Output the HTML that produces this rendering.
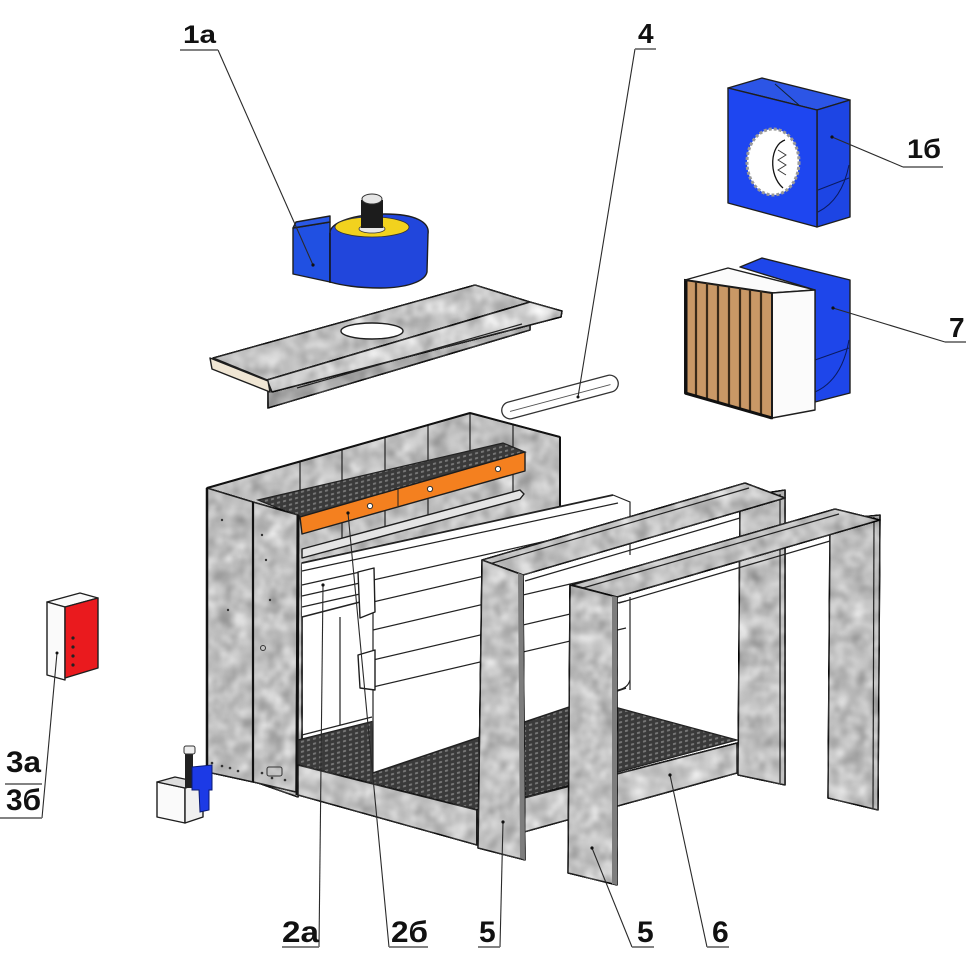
<!DOCTYPE html>
<html><head><meta charset="utf-8">
<style>
html,body{margin:0;padding:0;background:#fff;}
svg{display:block;}
.gv{filter:url(#gv);stroke:#1e1e1e;stroke-width:1.6;stroke-linejoin:round;}
.o{stroke:#1e1e1e;stroke-width:1.4;stroke-linejoin:round;}
.ln{stroke:#222;stroke-width:1.2;fill:none;}
.ld{stroke:#2a2a2a;stroke-width:1.1;fill:none;}
.ul{stroke:#707070;stroke-width:1.8;fill:none;}
.lab{font-family:"Liberation Sans",Arial,sans-serif;font-weight:bold;fill:#111;}
</style></head><body>
<svg width="970" height="970" viewBox="0 0 970 970" xmlns="http://www.w3.org/2000/svg">
<defs>
<filter id="gv" color-interpolation-filters="sRGB">
 <feTurbulence type="fractalNoise" baseFrequency="0.06" numOctaves="2" seed="7" result="t"/>
 <feColorMatrix in="t" type="matrix" values="0.33 0.33 0.33 0 0 0.33 0.33 0.33 0 0 0.33 0.33 0.33 0 0 0 0 0 0 1" result="g"/>
 <feComposite in="g" in2="SourceGraphic" operator="in" result="gm"/>
 <feComposite in="SourceGraphic" in2="gm" operator="arithmetic" k1="0" k2="1" k3="0.7" k4="-0.33"/>
</filter>
<pattern id="mesh" width="6" height="5" patternUnits="userSpaceOnUse" patternTransform="skewY(-14)">
 <rect width="6" height="5" fill="#3a3a3a"/>
 <rect x="1" y="1" width="3" height="2" fill="#777"/>
</pattern>
</defs>

<!-- ROOF PANEL -->
<polygon class="gv" points="268,383 530,305 530,330 268,408" fill="#a9a9a9"/>
<polygon class="gv" points="213,358 475,285 530,302 267,380" fill="#bdbdbd"/>
<polygon class="gv" points="267,380 530,302 562,311 561,317 272,392" fill="#cdcdcd"/>
<line class="ln" x1="297" y1="388" x2="522" y2="324" stroke-width="1.8"/>
<polygon class="o" points="210,358 268,381 270,392 212,369" fill="#f0e6d4"/>
<ellipse class="o" cx="372" cy="331" rx="31" ry="8" fill="#fff" stroke-width="1"/>

<!-- FAN 1a -->
<polygon class="o" points="293,228 330,222 330,282 293,274" fill="#2050e2"/>
<polygon class="o" points="293,228 296,222 330,216 330,222" fill="#2a58e6" stroke-width="1"/>
<path class="o" d="M330,233 C330,222 355,214 385,214 C415,214 430,222 428,234 L427,272 C425,282 405,288 380,288 C358,288 340,285 330,282 Z" fill="#2146dc"/>
<ellipse cx="372" cy="227" rx="37" ry="10" fill="#f2d21e" stroke="#333" stroke-width="0.8"/>
<ellipse cx="372" cy="229" rx="13" ry="4" fill="#e8e8e8" stroke="#333" stroke-width="0.8"/>
<rect x="361" y="200" width="22" height="28" fill="#1c1c1c"/>
<ellipse cx="372" cy="199" rx="10" ry="5" fill="#e6e6e6" stroke="#333" stroke-width="1"/>
<line x1="330" y1="233" x2="330" y2="283" stroke="#111" stroke-width="1.2"/>

<!-- PART 4 -->
<rect x="-60" y="-8.5" width="120" height="17" rx="8.5" transform="translate(560,397) rotate(-15)" fill="#fff" stroke="#333" stroke-width="1.3"/>
<line x1="-52" y1="1" x2="52" y2="1" transform="translate(560,397) rotate(-15)" stroke="#555" stroke-width="0.9"/>

<!-- FAN 1b -->
<polygon class="o" points="728,88 762,78 850,100 817,110" fill="#2c55e6"/>
<line x1="775" y1="84" x2="800" y2="106" stroke="#123" stroke-width="1"/>
<polygon class="o" points="817,110 850,100 850,217 817,227" fill="#1d45e4"/>
<path d="M818,190 L849,178 M818,212 Q842,200 849,165" stroke="#0a1a60" stroke-width="1" fill="none"/>
<polygon class="o" points="728,88 817,110 817,227 728,203" fill="#1e46f0"/>
<ellipse cx="773" cy="162" rx="26" ry="33" fill="#fff" stroke="#999" stroke-width="3" stroke-dasharray="3,2"/>
<path d="M785,140 C770,145 768,175 783,188" stroke="#111" stroke-width="1.3" fill="none"/>
<path d="M778,150 L786,155 L778,160 L786,165 L778,170 L786,175" stroke="#333" stroke-width="0.9" fill="none"/>

<!-- FILTER 7 -->
<polygon class="o" points="740,267 762,258 850,280 850,393 815,402 815,290" fill="#1e46ea"/>
<path d="M815,360 L849,348 M815,392 Q842,380 849,340" stroke="#0a1a60" stroke-width="1" fill="none"/>
<polygon class="o" points="685,280 728,268 815,290 772,293" fill="#fbfbfb"/>
<polygon class="o" points="772,293 815,290 815,410 772,418" fill="#fbfbfb"/>
<polygon points="685,280 772,293 772,418 685,393" fill="#c99866" stroke="#1a1a1a" stroke-width="2"/>
<g stroke="#3a2a18" stroke-width="2.2">
<line x1="696" y1="282" x2="696" y2="396"/>
<line x1="707" y1="283" x2="707" y2="399"/>
<line x1="718" y1="285" x2="718" y2="402"/>
<line x1="729" y1="287" x2="729" y2="405"/>
<line x1="740" y1="288" x2="740" y2="409"/>
<line x1="750" y1="290" x2="750" y2="412"/>
<line x1="761" y1="291" x2="761" y2="415"/>
</g>
<line x1="686" y1="281" x2="686" y2="393" stroke="#111" stroke-width="3"/>
<line x1="685" y1="393" x2="772" y2="418" stroke="#111" stroke-width="3"/>

<!-- CONTROL BOX -->
<polygon class="o" points="47,602 80,593 98,598 65,607" fill="#fafafa"/>
<polygon class="o" points="47,602 65,607 65,680 47,675" fill="#fafafa"/>
<polygon class="o" points="65,607 98,598 98,668 65,678" fill="#ea1a1e"/>
<g fill="#222"><circle cx="73" cy="638" r="1.6"/><circle cx="73" cy="647" r="1.6"/><circle cx="73" cy="656" r="1.6"/><circle cx="73" cy="665" r="1.6"/></g>

<!-- CABIN back wall -->
<polygon class="gv" points="207,488 470,413 560,437 560,507 302,563 302,760 298,797 207,765" fill="#bbbbbb"/>
<g class="ln">
<line x1="300" y1="462" x2="300" y2="490"/>
<line x1="342" y1="450" x2="342" y2="480"/>
<line x1="385" y1="437" x2="385" y2="470"/>
<line x1="428" y1="425" x2="428" y2="460"/>
<line x1="470" y1="413" x2="470" y2="451"/>
<line x1="513" y1="425" x2="513" y2="495"/>
<line x1="342" y1="507" x2="342" y2="545"/>
<line x1="385" y1="495" x2="385" y2="535"/>
<line x1="428" y1="483" x2="428" y2="522"/>
<line x1="340" y1="617" x2="340" y2="725"/>
<line x1="302" y1="735" x2="372" y2="717"/>
</g>
<polygon points="258,500 503,443 525,452 300,517" fill="url(#mesh)" stroke="#222" stroke-width="1.2"/>
<polygon class="o" points="300,517 525,452 525,471 302,534" fill="#f4801f"/>
<line x1="398" y1="489" x2="398" y2="506" stroke="#222" stroke-width="1"/>
<g fill="#fff" stroke="#333" stroke-width="1"><circle cx="370" cy="506" r="2.6"/><circle cx="430" cy="489" r="2.6"/><circle cx="498" cy="469" r="2.6"/></g>
<polygon class="o" points="302,549 520,490 524,494 520,499 302,558" fill="#e4e4e4" stroke-width="1.1"/>

<!-- left panels -->
<polygon class="gv" points="207,488 253,502 253,782 207,772" fill="#b9b9b9"/>
<polygon class="gv" points="253,502 298,515 296,792 253,782" fill="#bdbdbd"/>
<line x1="207" y1="488" x2="207" y2="772" stroke="#111" stroke-width="2.5"/>
<line x1="253" y1="502" x2="253" y2="782" stroke="#111" stroke-width="2.2"/>
<line x1="298" y1="515" x2="297" y2="795" stroke="#111" stroke-width="3"/>
<line x1="207" y1="488" x2="470" y2="413" stroke="#111" stroke-width="2"/>
<line x1="470" y1="413" x2="560" y2="437" stroke="#111" stroke-width="2"/>
<line x1="560" y1="437" x2="560" y2="507" stroke="#111" stroke-width="2"/>
<g fill="#333">
<circle cx="212" cy="763" r="1.3"/><circle cx="222" cy="766" r="1.3"/><circle cx="230" cy="768" r="1.3"/><circle cx="238" cy="771" r="1.3"/>
<circle cx="262" cy="773" r="1.3"/><circle cx="272" cy="778" r="1.3"/><circle cx="285" cy="780" r="1.3"/>
<circle cx="262" cy="535" r="1.2"/><circle cx="266" cy="560" r="1.2"/><circle cx="270" cy="600" r="1.2"/><circle cx="222" cy="520" r="1.2"/><circle cx="228" cy="610" r="1.2"/>
</g>
<circle cx="263" cy="648" r="2.5" fill="none" stroke="#333" stroke-width="1"/>
<rect x="267" y="767" width="15" height="9" rx="2" fill="none" stroke="#333" stroke-width="1"/>

<!-- TRAY grid -->
<polygon points="298,740 526,683 737,740 477,810 298,765" fill="url(#mesh)" stroke="#222" stroke-width="1.2"/>

<!-- WHITE interior (trough + filter 2b) -->
<polygon points="302,563 613,495 630,502 630,688 480,737 373,773 372,690 360,685 360,600 302,617" fill="#fff"/>
<g class="ln">
<line x1="302" y1="563" x2="613" y2="495" stroke-width="1.8"/>
<line x1="302" y1="571" x2="618" y2="503"/>
<line x1="360" y1="583" x2="626" y2="523"/>
<line x1="302" y1="585" x2="360" y2="572"/>
<line x1="302" y1="596" x2="360" y2="583"/>
<line x1="302" y1="607" x2="360" y2="594"/>
<line x1="302" y1="617" x2="360" y2="602" stroke-width="1.6"/>
<line x1="373" y1="602" x2="626" y2="543"/>
<line x1="373" y1="630" x2="626" y2="571"/>
<line x1="373" y1="660" x2="626" y2="601"/>
<line x1="373" y1="687" x2="626" y2="628"/>
<line x1="373" y1="773" x2="626" y2="688" stroke-width="1.6"/>
<line x1="373" y1="600" x2="373" y2="773"/>
<polyline points="613,495 630,502 630,555"/>
<line x1="630" y1="597" x2="630" y2="690"/>
<path d="M618,690 Q628,688 630,680"/>
</g>
<polygon class="o" points="358,572 374,568 375,612 360,618" fill="#fff" stroke-width="1.1"/>
<polygon class="o" points="358,655 375,650 375,690 360,688" fill="#fff" stroke-width="1.1"/>

<!-- TRAY faces -->
<polygon class="gv" points="298,765 477,810 477,845 298,795" fill="#bebebe"/>
<polygon class="gv" points="477,810 737,743 737,773 477,845" fill="#c4c4c4"/>

<!-- FRAME 1 (rear) -->
<polygon class="gv" points="740,497 785,490 785,785 738,775" fill="#bbbbbb"/>
<line x1="780" y1="494" x2="780" y2="783" stroke="#222" stroke-width="1.2"/>
<polygon class="gv" points="482,560 745,483 785,498 523,575" fill="#bfbfbf"/>
<line class="ln" x1="486" y1="565" x2="749" y2="488"/>
<line class="ln" x1="525" y1="581" x2="740" y2="518"/>
<polygon class="gv" points="482,560 523,575 525,860 478,848" fill="#bdbdbd"/>
<polygon points="518,573 523,575 525,860 520,858" fill="#7d7d7d"/>

<!-- FRAME 2 (front) -->
<polygon class="gv" points="830,520 880,515 878,810 828,798" fill="#bbbbbb"/>
<line x1="874" y1="517" x2="873" y2="808" stroke="#222" stroke-width="1.2"/>
<polygon class="gv" points="572,585 835,509 880,520 617,597" fill="#bfbfbf"/>
<line class="ln" x1="576" y1="590" x2="839" y2="514"/>
<line class="ln" x1="619" y1="603" x2="830" y2="541"/>
<polygon class="gv" points="570,585 617,597 617,885 568,873" fill="#bdbdbd"/>
<polygon points="612,596 617,597 617,885 612,884" fill="#7d7d7d"/>

<!-- PUMP -->
<polygon class="o" points="157,782 185,788 185,823 157,817" fill="#fafafa"/>
<polygon class="o" points="185,788 203,783 203,817 185,823" fill="#f0f0f0"/>
<polygon class="o" points="157,782 175,777 203,783 185,788" fill="#ddd" stroke-width="1"/>
<rect x="185" y="752" width="8" height="36" fill="#222"/>
<rect x="184" y="746" width="11" height="8" rx="2" fill="#eee" stroke="#333" stroke-width="1"/>
<path d="M192,767 L212,765 L212,790 L209,790 L209,810 L200,812 L199,790 L192,790 Z" fill="#1c3ae6" stroke="#0a1a70" stroke-width="1"/>

<!-- LEADERS -->
<g class="ld">
<line x1="218" y1="50" x2="313" y2="265"/>
<line x1="635" y1="49" x2="578" y2="397"/>
<line x1="903" y1="167" x2="832" y2="137"/>
<line x1="945" y1="342" x2="833" y2="308"/>
<line x1="42" y1="818" x2="57" y2="653"/>
<line x1="319" y1="947" x2="323" y2="585"/>
<line x1="389" y1="947" x2="348" y2="513"/>
<line x1="500" y1="947" x2="503" y2="822"/>
<line x1="632" y1="947" x2="592" y2="848"/>
<line x1="707" y1="947" x2="670" y2="775"/>
</g>
<g fill="#111">
<circle cx="313" cy="265" r="1.6"/><circle cx="578" cy="397" r="1.5"/><circle cx="832" cy="137" r="1.6"/>
<circle cx="833" cy="308" r="1.6"/><circle cx="57" cy="653" r="1.5"/><circle cx="323" cy="585" r="1.6"/>
<circle cx="348" cy="513" r="1.6"/><circle cx="503" cy="822" r="1.6"/><circle cx="592" cy="848" r="1.6"/><circle cx="670" cy="775" r="1.6"/>
</g>
<g class="ul">
<line x1="180" y1="50" x2="218" y2="50"/>
<line x1="635" y1="49" x2="656" y2="49"/>
<line x1="903" y1="167" x2="943" y2="167"/>
<line x1="945" y1="342" x2="966" y2="342"/>
<line x1="5" y1="784" x2="42" y2="784"/>
<line x1="0" y1="818" x2="42" y2="818"/>
<line x1="282" y1="947" x2="319" y2="947"/>
<line x1="389" y1="947" x2="428" y2="947"/>
<line x1="478" y1="947" x2="500" y2="947"/>
<line x1="632" y1="947" x2="654" y2="947"/>
<line x1="707" y1="947" x2="729" y2="947"/>
</g>

<!-- LABELS -->
<text class="lab" x="183" y="43" font-size="25" textLength="33" lengthAdjust="spacingAndGlyphs">1а</text>
<text class="lab" x="638" y="43" font-size="28">4</text>
<text class="lab" x="907" y="158" font-size="27" textLength="34" lengthAdjust="spacingAndGlyphs">1б</text>
<text class="lab" x="949" y="337" font-size="28">7</text>
<text class="lab" x="6" y="772" font-size="30" textLength="35" lengthAdjust="spacingAndGlyphs">3а</text>
<text class="lab" x="6" y="810" font-size="30" textLength="35" lengthAdjust="spacingAndGlyphs">3б</text>
<text class="lab" x="282" y="942" font-size="30" textLength="37" lengthAdjust="spacingAndGlyphs">2а</text>
<text class="lab" x="391" y="942" font-size="30" textLength="37" lengthAdjust="spacingAndGlyphs">2б</text>
<text class="lab" x="479" y="942" font-size="30">5</text>
<text class="lab" x="637" y="942" font-size="30">5</text>
<text class="lab" x="712" y="942" font-size="30">6</text>
</svg>
</body></html>
